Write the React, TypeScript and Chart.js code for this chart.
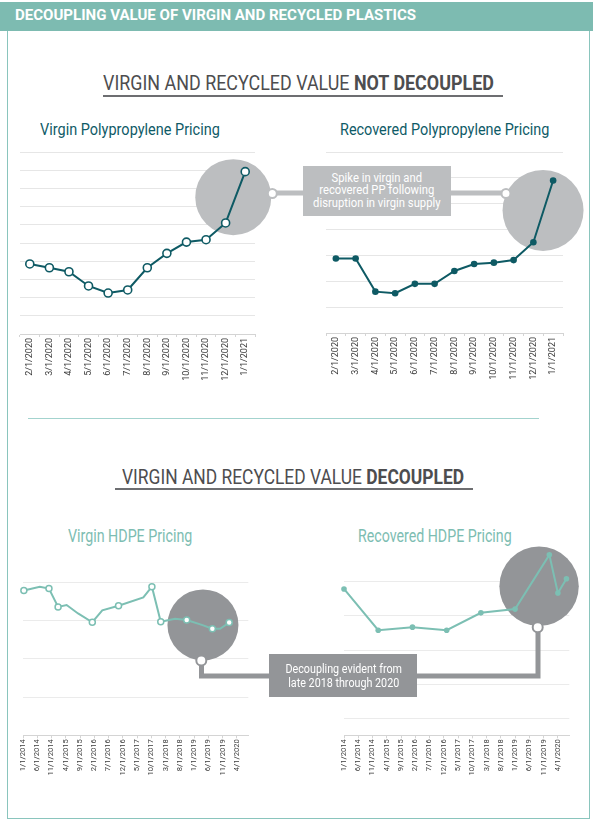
import React, { useEffect, useLayoutEffect, useRef } from 'react';
import { Chart, registerables } from 'chart.js';

Chart.register(...registerables);
Chart.defaults.font.family = 'Roboto, "Noto Sans", sans-serif';

// Polypropylene pricing, monthly (index scale, no units shown)
const ppDates = [
  '2/1/2020', '3/1/2020', '4/1/2020', '5/1/2020', '6/1/2020', '7/1/2020',
  '8/1/2020', '9/1/2020', '10/1/2020', '11/1/2020', '12/1/2020', '1/1/2021',
];
const virginPP = [3.85, 3.64, 3.42, 2.64, 2.25, 2.42, 3.64, 4.43, 5.05, 5.18, 6.1, 8.92];
const recoveredPP = [2.88, 2.88, 1.6, 1.54, 1.9, 1.9, 2.4, 2.67, 2.72, 2.82, 3.51, 5.9];

// HDPE pricing, 2014-2020
const hdpeTickLabels = [
  '1/1/2014', '6/1/2014', '11/1/2014', '4/1/2015', '9/1/2015', '2/1/2016',
  '7/1/2016', '12/1/2016', '5/1/2017', '10/1/2017', '3/1/2018', '8/1/2018',
  '1/1/2019', '6/1/2019', '11/1/2019', '4/1/2020',
];
// months since 1/1/2014
const virginHdpeMonths = [0.3, 5.9, 9.1, 12.3, 15.3, 19.3, 24.3, 27.8, 33.5, 42.2, 45.2, 48.3, 53.3, 57.4, 62.7, 66.4, 69.1, 72.3];
const virginHdpeValues = [3.79, 3.89, 3.84, 3.36, 3.41, 3.19, 2.96, 3.27, 3.39, 3.61, 3.89, 2.97, 3.05, 3.02, 2.89, 2.79, 2.79, 2.95];
const virginHdpeMarked = [true, false, true, true, false, false, true, false, true, false, true, true, false, true, false, true, false, true];
const recoveredHdpeDates = ['1/1/2014', '1/1/2015', '1/1/2016', '1/1/2017', '1/1/2018', '1/1/2019', '1/1/2020', '4/1/2020', '7/1/2020'];
const recoveredHdpeValues = [3.79, 2.58, 2.67, 2.58, 3.09, 3.2, 4.79, 3.67, 4.09];

const DARK_TEAL = '#0e5a64';
const LIGHT_TEAL = '#7cbfb3';
const LIGHT_GRAY = '#bcbec0';
const MID_GRAY = '#939598';

const monthIndex = (d: string) => {
  const [m, , y] = d.split('/').map(Number);
  return (y - 2014) * 12 + (m - 1);
};
const hdpeTickMonths = hdpeTickLabels.map(monthIndex);

// grey disc drawn behind the line to highlight a stretch of it
const highlightPlugin = {
  id: 'highlight',
  beforeDatasetsDraw(chart: any, _args: any, opts: any) {
    if (!opts || opts.x === undefined) return;
    const { ctx, scales } = chart;
    const cx = scales.x.getPixelForValue(opts.x);
    const cy = scales.y.getPixelForValue(opts.y);
    ctx.save();
    ctx.beginPath();
    ctx.arc(cx, cy, opts.r, 0, Math.PI * 2);
    ctx.fillStyle = opts.color;
    ctx.fill();
    ctx.restore();
  },
};

const ppChart = (values: number[], hollow: boolean, yMax: number, pad: any, axisH: number, hl: any) => ({
  type: 'line',
  data: {
    labels: ppDates,
    datasets: [
      {
        data: values,
        borderColor: DARK_TEAL,
        borderWidth: 2,
        tension: 0,
        clip: false,
        pointRadius: hollow ? 4 : 3.3,
        pointBorderWidth: hollow ? 1.6 : 0,
        pointBackgroundColor: hollow ? '#ffffff' : DARK_TEAL,
        pointBorderColor: DARK_TEAL,
      },
    ],
  },
  options: {
    animation: false,
    responsive: true,
    maintainAspectRatio: false,
    events: [],
    layout: { padding: pad },
    plugins: { legend: { display: false }, tooltip: { enabled: false }, highlight: hl },
    scales: {
      x: {
        offset: true,
        grid: { offset: true, drawOnChartArea: false, tickLength: 3, color: '#d4d4d4' },
        border: { color: '#d4d4d4' },
        ticks: { autoSkip: false, minRotation: 90, maxRotation: 90, padding: 1, color: '#3a3a3a', font: { size: 9 } },
        afterFit: (s: any) => { s.height = axisH; },
      },
      y: {
        min: 0,
        max: yMax,
        ticks: { display: false, stepSize: 1 },
        grid: { color: '#e6e6e6', drawTicks: false },
        border: { display: false },
        afterFit: (s: any) => { s.width = 0; },
      },
    },
  },
  plugins: [highlightPlugin],
});

const hdpeChart = (
  months: number[], values: number[], radii: number[], hollow: boolean,
  yMin: number, yMax: number, topLine: number, pad: any, axisH: number, hl: any,
) => ({
  type: 'line',
  data: {
    datasets: [
      {
        data: months.map((m, i) => ({ x: m, y: values[i] })),
        borderColor: LIGHT_TEAL,
        borderWidth: 2,
        tension: 0,
        clip: false,
        pointRadius: radii,
        pointBorderWidth: hollow ? 1.5 : 0,
        pointBackgroundColor: hollow ? '#ffffff' : LIGHT_TEAL,
        pointBorderColor: LIGHT_TEAL,
      },
    ],
  },
  options: {
    animation: false,
    responsive: true,
    maintainAspectRatio: false,
    events: [],
    layout: { padding: pad },
    plugins: { legend: { display: false }, tooltip: { enabled: false }, highlight: hl },
    scales: {
      x: {
        type: 'linear',
        min: 0,
        max: 79,
        grid: { drawOnChartArea: false, tickLength: 3, color: '#d4d4d4' },
        border: { color: '#d4d4d4' },
        afterBuildTicks: (axis: any) => { axis.ticks = hdpeTickMonths.map((v) => ({ value: v })); },
        ticks: {
          autoSkip: false, minRotation: 90, maxRotation: 90, padding: 1, color: '#3a3a3a', font: { size: 7.6 },
          callback: (v: any) => hdpeTickLabels[hdpeTickMonths.indexOf(v)] ?? '',
        },
        afterFit: (s: any) => { s.height = axisH; },
      },
      y: {
        min: yMin,
        max: yMax,
        ticks: { display: false, stepSize: 1 },
        grid: {
          drawTicks: false,
          color: (c: any) => (c.tick && c.tick.value > topLine ? 'rgba(0,0,0,0)' : '#ebebeb'),
        },
        border: { display: false },
        afterFit: (s: any) => { s.width = 0; },
      },
    },
  },
  plugins: [highlightPlugin],
});

const ChartBox: React.FC<{ make: () => any; left: number; top: number; width: number; height: number }> = ({ make, left, top, width, height }) => {
  const ref = useRef<HTMLCanvasElement | null>(null);
  useEffect(() => {
    if (!ref.current) return;
    const chart = new Chart(ref.current, make());
    return () => chart.destroy();
  }, []);
  return (
    <div style={{ position: 'absolute', left, top, width, height }}>
      <canvas ref={ref} />
    </div>
  );
};

// text squeezed horizontally to the measured width of the condensed original
const FitText: React.FC<{ x: number; capTop: number; w: number; size: number; color: string; weight?: number; children: React.ReactNode }> = ({ x, capTop, w, size, color, weight = 400, children }) => {
  const ref = useRef<HTMLDivElement | null>(null);
  useLayoutEffect(() => {
    const el = ref.current;
    if (!el) return;
    const natural = el.offsetWidth;
    if (natural > 0) el.style.transform = `scaleX(${w / natural})`;
  }, []);
  return (
    <div
      ref={ref}
      style={{
        position: 'absolute', left: x, top: capTop - 0.131 * size, fontSize: size, lineHeight: `${size}px`,
        fontWeight: weight, color, whiteSpace: 'nowrap', transformOrigin: '0 0', fontFamily: 'Roboto',
      }}
    >
      {children}
    </div>
  );
};

const Callout: React.FC<{ left: number; top: number; width: number; height: number; bg: string; lineH: number; squeeze: number; lines: string[] }> = ({ left, top, width, height, bg, lineH, squeeze, lines }) => (
  <div
    style={{
      position: 'absolute', left, top, width, height, background: bg, display: 'flex',
      alignItems: 'center', justifyContent: 'center', fontFamily: 'Roboto', fontSize: 12.5, color: '#fff',
    }}
  >
    <div style={{ transform: `scaleX(${squeeze})`, textAlign: 'center', lineHeight: `${lineH}px`, whiteSpace: 'nowrap' }}>
      {lines.map((l) => <div key={l}>{l}</div>)}
    </div>
  </div>
);

const App: React.FC = () => {
  const lightRadii = virginHdpeMarked.map((m) => (m ? 3 : 0));
  const darkRadii = recoveredHdpeValues.map(() => 2.8);
  const recMonths = recoveredHdpeDates.map(monthIndex);

  return (
    <div style={{ position: 'absolute', left: 0, top: 0, width: 593, height: 822, background: '#fff', overflow: 'hidden' }}>
      <div style={{ position: 'absolute', left: 0, top: 2, width: 593, height: 29, background: '#7dbbb1' }} />
      <div style={{ position: 'absolute', left: 7, top: 31, width: 583, height: 787.5, boxSizing: 'border-box', border: '1.5px solid #8ac5bd', borderTop: 'none' }} />
      <FitText x={15} capTop={10} w={401} size={15} color="#fff" weight={700}>
        DECOUPLING VALUE OF VIRGIN AND RECYCLED PLASTICS
      </FitText>

      <FitText x={102.7} capTop={76} w={391} size={20} color="#4d4d4f">
        VIRGIN AND RECYCLED VALUE <b>NOT DECOUPLED</b>
      </FitText>
      <div style={{ position: 'absolute', left: 102.5, top: 95, width: 400, height: 2, background: '#6d6e71' }} />

      <FitText x={40} capTop={124.3} w={180} size={16.5} color="#0f5b67">Virgin Polypropylene Pricing</FitText>
      <FitText x={339.5} capTop={124.3} w={209} size={16.5} color="#0f5b67">Recovered Polypropylene Pricing</FitText>

      <ChartBox
        left={0} top={140} width={290} height={240}
        make={() => ppChart(virginPP, true, 10, { left: 20, right: 35, top: 12, bottom: 0 }, 46, { x: 10.39, y: 7.52, r: 38, color: LIGHT_GRAY })}
      />
      <ChartBox
        left={300} top={140} width={293} height={240}
        make={() => ppChart(recoveredPP, false, 7, { left: 26, right: 30, top: 12, bottom: 0 }, 47, { x: 10.49, y: 4.74, r: 40.5, color: LIGHT_GRAY })}
      />

      <div style={{ position: 'absolute', left: 28, top: 417.5, width: 511, height: 1, background: '#a3d3ce' }} />

      <FitText x={121.7} capTop={469.3} w={342.3} size={20} color="#4d4d4f">
        VIRGIN AND RECYCLED VALUE <b>DECOUPLED</b>
      </FitText>
      <div style={{ position: 'absolute', left: 115, top: 487.5, width: 358.3, height: 2, background: '#6d6e71' }} />

      <FitText x={67.7} capTop={530} w={124.6} size={17.5} color="#7dbdb2">Virgin HDPE Pricing</FitText>
      <FitText x={357.7} capTop={530} w={153.3} size={17.5} color="#7dbdb2">Recovered HDPE Pricing</FitText>

      <ChartBox
        left={0} top={560} width={290} height={240}
        make={() => hdpeChart(virginHdpeMonths, virginHdpeValues, lightRadii, true, 0, 4, 4,
          { left: 23, right: 41.7, top: 22.5, bottom: 0 }, 64.7, { x: 63.1, y: 2.89, r: 35.5, color: MID_GRAY })}
      />
      <ChartBox
        left={300} top={530} width={293} height={270}
        make={() => hdpeChart(recMonths, recoveredHdpeValues, darkRadii, false, -0.5, 5, 4,
          { left: 44, right: 23.7, top: 17.7, bottom: 0 }, 64.7, { x: 68.4, y: 3.87, r: 39.7, color: MID_GRAY })}
      />

      <svg width={593} height={822} style={{ position: 'absolute', left: 0, top: 0, pointerEvents: 'none' }}>
        <line x1={272} y1={193} x2={506} y2={193} stroke={LIGHT_GRAY} strokeWidth={5} />
        <circle cx={272.3} cy={193.5} r={4.5} fill="#fff" stroke={LIGHT_GRAY} strokeWidth={2} />
        <circle cx={506} cy={193.5} r={4.5} fill="#fff" stroke={LIGHT_GRAY} strokeWidth={2} />
        <polyline points="201.5,660 201.5,676 538,676 538,627" fill="none" stroke={MID_GRAY} strokeWidth={5} />
        <circle cx={201.3} cy={660.5} r={5} fill="#fff" stroke={MID_GRAY} strokeWidth={2} />
        <circle cx={537.7} cy={627.3} r={5} fill="#fff" stroke={MID_GRAY} strokeWidth={2} />
      </svg>

      <Callout
        left={303} top={165.7} width={148} height={50.3} bg={LIGHT_GRAY} lineH={12.8} squeeze={0.9}
        lines={['Spike in virgin and', 'recovered PP following', 'disruption in virgin supply']}
      />
      <Callout
        left={269.3} top={654.3} width={148} height={43} bg={MID_GRAY} lineH={13.4} squeeze={0.86}
        lines={['Decoupling evident from', 'late 2018 through 2020']}
      />
    </div>
  );
};

export default App;
